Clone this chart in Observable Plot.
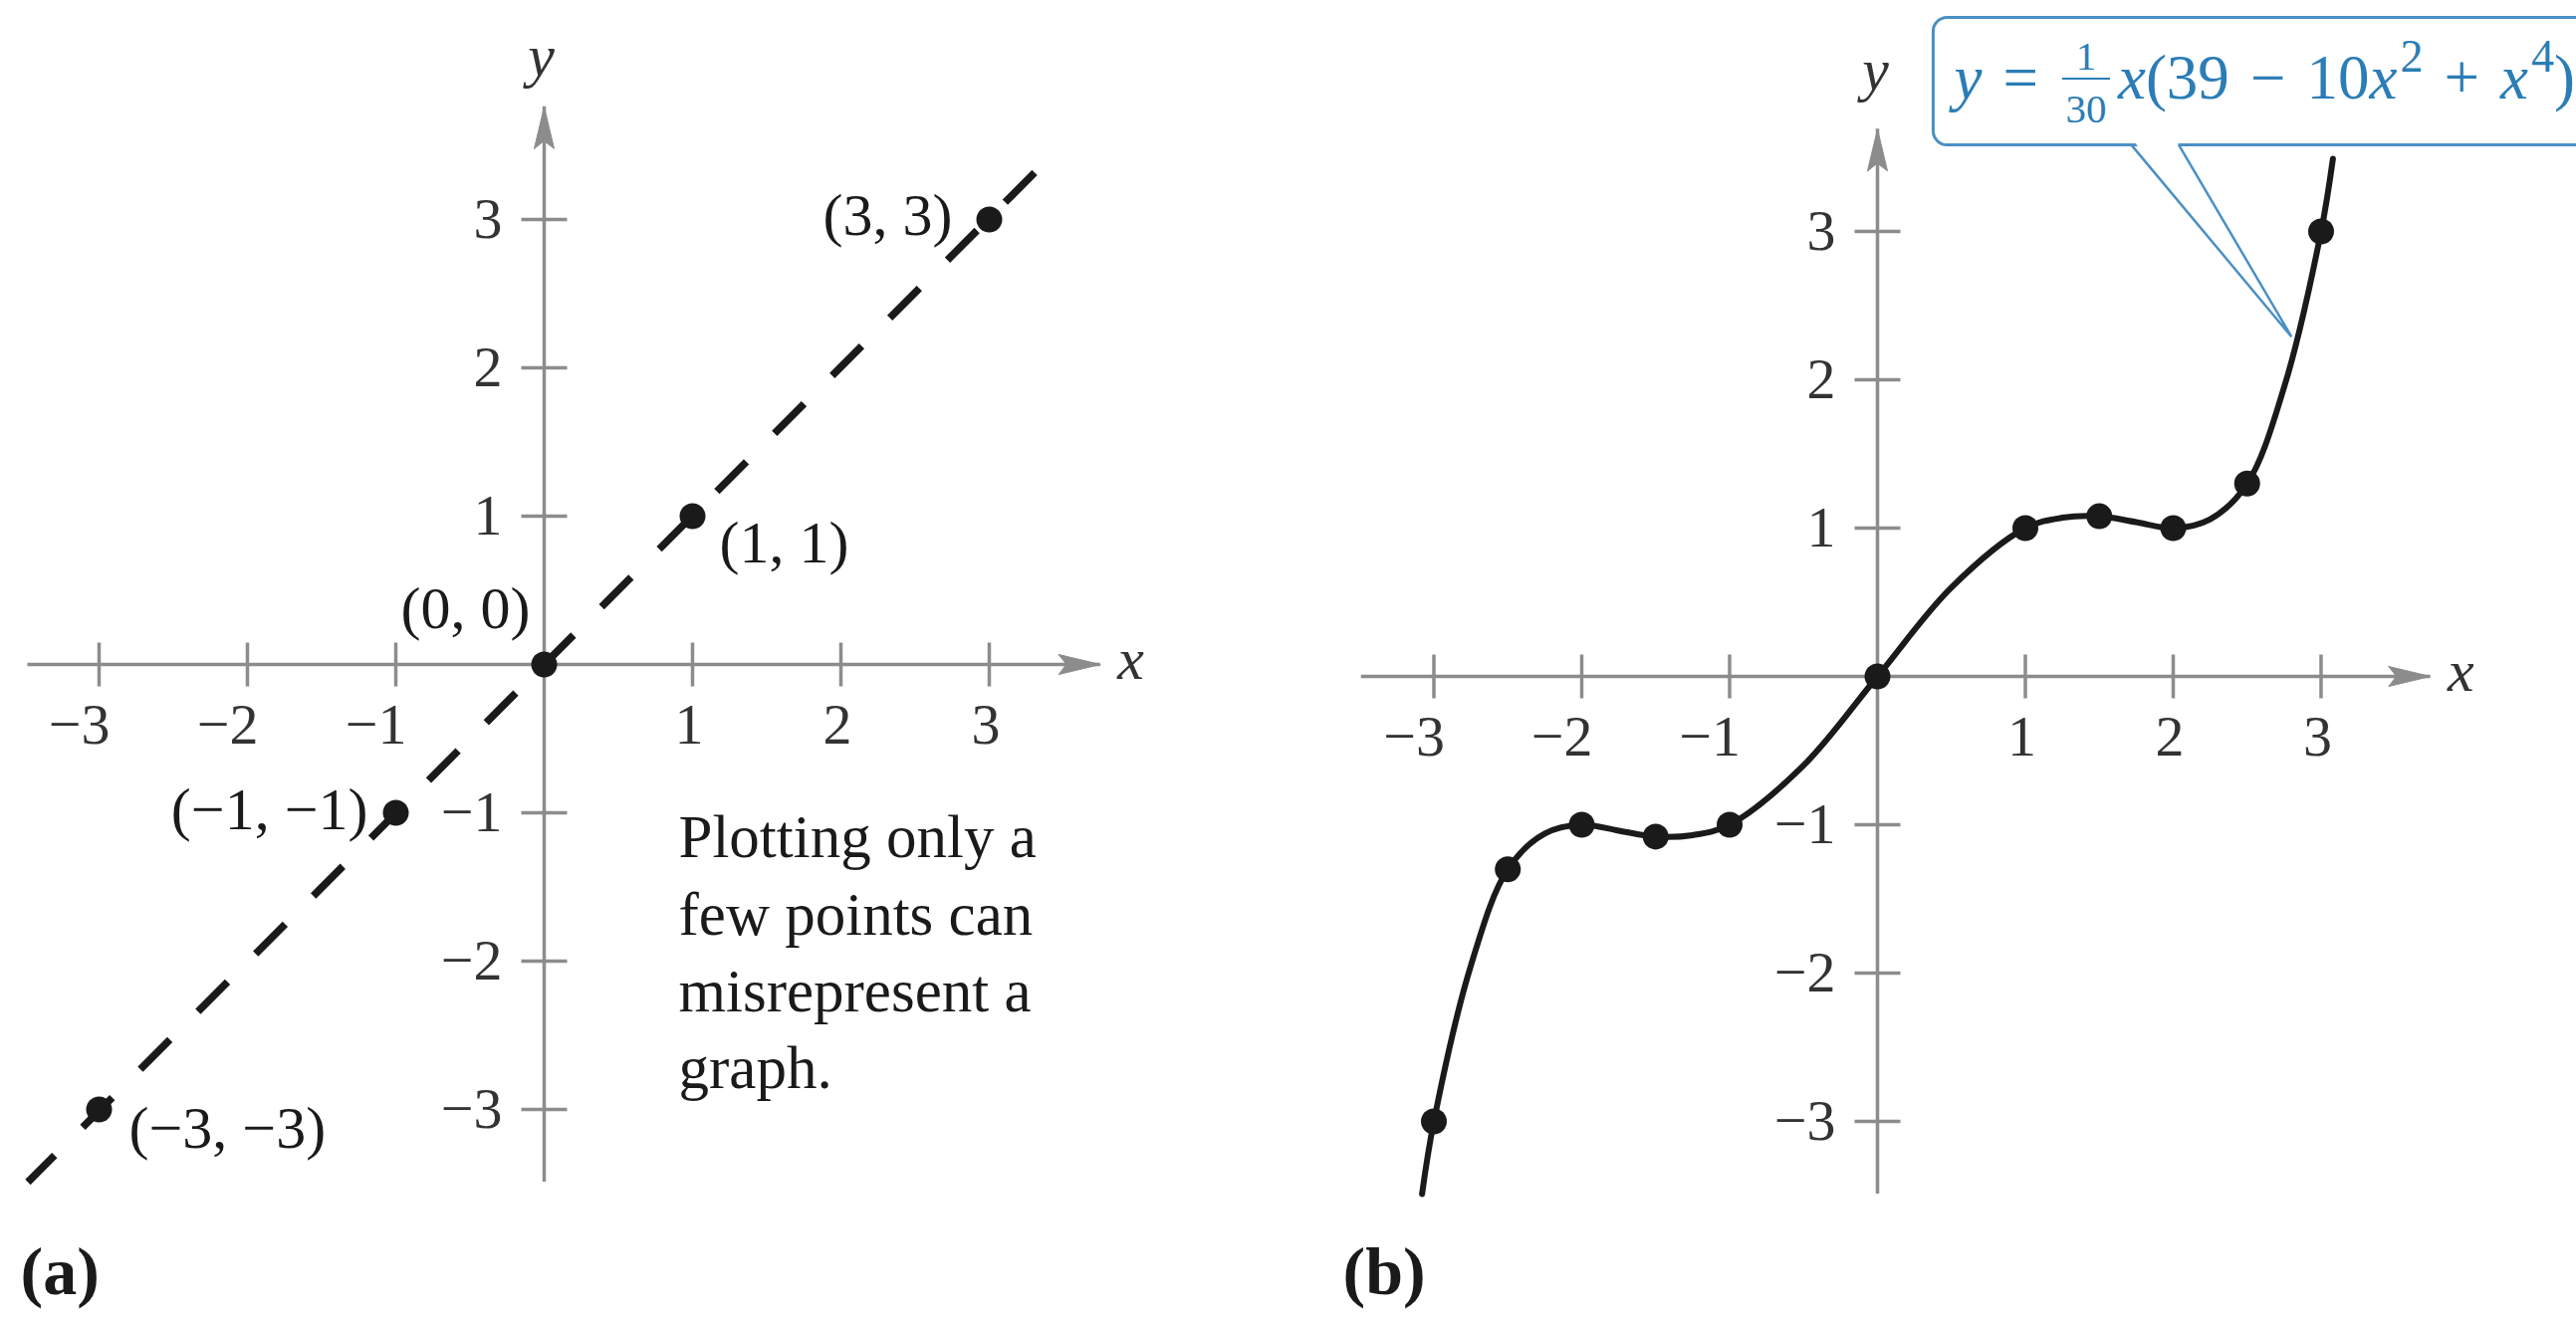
<!DOCTYPE html>
<html>
<head>
<meta charset="utf-8">
<script src="https://cdn.jsdelivr.net/npm/d3@7"></script>
<script src="https://cdn.jsdelivr.net/npm/@observablehq/plot@0.6"></script>
<style>
  html, body { margin: 0; padding: 0; background: #fff; }
  #wrap { position: relative; width: 2587px; height: 1325px; overflow: hidden;
          font-family: "Liberation Serif", "Times New Roman", serif; background: #fff; }
  .panel { position: absolute; top: 0; }
  g[aria-label="note"] text { letter-spacing: 2px; }
  g[aria-label="point label"] text { letter-spacing: 1px; }
  g[aria-label="callout box"] { filter: drop-shadow(-3px 5px 4px rgba(0,0,0,0.32)); }
  #formula { position: absolute; color: #2b7db6; font-size: 63px; line-height: 1; white-space: nowrap;
             font-family: "Liberation Serif", "Times New Roman", serif; }
  #formula i { font-style: italic; }
  #formula .op { display: inline-block; margin: 0 21px; }
  #formula .frac { display: inline-block; position: relative; width: 54px; height: 0; margin: 0 5px 0 0; }
  #formula .num, #formula .den { position: absolute; left: 0; right: 0; text-align: center; font-size: 41px; line-height: 1; }
  #formula .num { bottom: 22px; }
  #formula .den { top: -10px; }
  #formula .bar { position: absolute; left: 3px; right: 3px; bottom: 19px; height: 2px; background: #2b7db6; }
  #formula sup { font-size: 46px; position: relative; top: -27px; vertical-align: baseline; line-height: 0; margin-left: 3px; }
</style>
</head>
<body>
<div id="wrap"></div>
<script>
// ---------- data ----------
const tickValues = [-3, -2, -1, 1, 2, 3];
const tickLabels = ["−3", "−2", "−1", "1", "2", "3"];

// panel (a)
const dashX = [-3.48, 3.31];
const dashY = [-3.49, 3.32];
const pointsAX = [-3, -1, 0, 1, 3];
const pointsAY = [-3, -1, 0, 1, 3];
const pointsALabel = ["(−3, −3)", "(−1, −1)", "(0, 0)", "(1, 1)", "(3, 3)"];
const noteLines = ["Plotting only a", "few points can", "misrepresent a", "graph."];

// panel (b)
const curveX = [-3.08, -3, -2.75, -2.5, -2.25, -2, -1.75, -1.5, -1.25, -1, -0.5, 0, 0.5, 1, 1.25, 1.5, 1.75, 2, 2.25, 2.5, 2.75, 3, 3.08];
const curveY = [-3.49, -3, -1.95, -1.3, -1.06, -1, -1.04, -1.08, -1.07, -1, -0.6, 0, 0.6, 1, 1.07, 1.08, 1.04, 1, 1.06, 1.3, 1.95, 3, 3.49];
const pointsBX = [-3, -2.5, -2, -1.5, -1, 0, 1, 1.5, 2, 2.5, 3];
const pointsBY = [-3, -1.3, -1, -1.08, -1, 0, 1, 1.08, 1, 1.3, 3];
const formulaText = "y = (1/30) x(39 − 10x² + x⁴)";

// ---------- layout / style ----------
const H = 1325;
const axisGray = "#8c8c8c";
const ink = "#1a1a1a";
const font = "Liberation Serif";

const stick = { draw(ctx, l) { ctx.moveTo(0, 0); ctx.lineTo(0, -l); } };
const head = { draw(ctx, l, r) {
  ctx.moveTo(-r, 0); ctx.lineTo(0, -l); ctx.lineTo(r, 0); ctx.lineTo(0, -l * 0.18); ctx.closePath();
} };

function axes(ext) {
  return [
    Plot.ruleY([0], {x1: ext.xMin, x2: ext.xMax, stroke: axisGray, strokeWidth: 3.5}),
    Plot.ruleX([0], {y1: ext.yMin, y2: ext.yMax, stroke: axisGray, strokeWidth: 3.5}),
    Plot.vector([0], {x: ext.xMax, y: 0, rotate: 90, anchor: "end", length: 42, r: 10, shape: head,
                      fill: axisGray, stroke: axisGray, strokeWidth: 1}),
    Plot.vector([0], {x: 0, y: ext.yMax, rotate: 0, anchor: "end", length: 42, r: 10, shape: head,
                      fill: axisGray, stroke: axisGray, strokeWidth: 1}),
    Plot.vector(tickValues, {x: d => d, y: 0, length: 44, anchor: "middle", shape: stick,
                             stroke: axisGray, strokeWidth: 3.5, strokeLinecap: "butt"}),
    Plot.vector(tickValues, {x: 0, y: d => d, rotate: 90, length: 46, anchor: "middle", shape: stick,
                             stroke: axisGray, strokeWidth: 3.5, strokeLinecap: "butt"}),
    Plot.text(tickValues, {x: d => d, y: 0, text: (d, i) => tickLabels[i], dy: 61, dx: 11,
                           textAnchor: "end", fontSize: 58, fontFamily: font, fill: "#333"}),
    Plot.text(tickValues, {x: 0, y: d => d, text: (d, i) => tickLabels[i], dx: -42,
                           textAnchor: "end", fontSize: 58, fontFamily: font, fill: "#333"}),
    Plot.text(["x"], {x: ext.xMax, y: 0, dx: 17, dy: -5, textAnchor: "start", fontSize: 60,
                      fontStyle: "italic", fontFamily: font, fill: "#333"}),
    Plot.text(["y"], {x: 0, y: ext.yMax, dx: ext.yLabelDx, dy: ext.yLabelDy, fontSize: 60,
                      fontStyle: "italic", fontFamily: font, fill: "#333"})
  ];
}

const wrap = document.getElementById("wrap");

// ---------- panel (a) ----------
const noteAnchor = {x: 0.906, y: -0.93};
const pointsA = pointsAX.map((x, i) => ({x, y: pointsAY[i], label: pointsALabel[i]}));
const labelPlace = {
  "(3, 3)":   {textAnchor: "end",   dx: -37, dy: -4},
  "(1, 1)":   {textAnchor: "start", dx: 27,  dy: 27},
  "(0, 0)":   {textAnchor: "end",   dx: -14, dy: -56},
  "(−1, −1)": {textAnchor: "end",   dx: -28, dy: -3},
  "(−3, −3)": {textAnchor: "start", dx: 30,  dy: 19}
};
const labelMarks = Object.entries(labelPlace).map(([lab, p]) =>
  Plot.text(pointsA.filter(d => d.label === lab), {x: "x", y: "y", text: "label", ...p,
    fontSize: 60, fontFamily: font, fill: ink, ariaLabel: "point label"}));

const plotA = Plot.plot({
  width: 1293, height: H, margin: 0,
  x: {domain: [-3, 3], range: [99, 993], axis: null},
  y: {domain: [-3, 3], range: [1114, 220], axis: null},
  style: {background: "transparent", fontFamily: font, overflow: "hidden"},
  marks: [
    ...axes({xMin: -3.48, xMax: 3.75, yMin: -3.49, yMax: 3.76, yLabelDx: -3, yLabelDy: -50}),
    Plot.line({length: dashX.length}, {x: dashX, y: dashY, stroke: ink, strokeWidth: 7.5,
      strokeDasharray: "42,40", strokeDashoffset: 4, strokeLinecap: "butt"}),
    Plot.dot(pointsA, {x: "x", y: "y", r: 13, fill: ink}),
    ...labelMarks,
    Plot.text([noteLines.join("\n")], {x: noteAnchor.x, y: noteAnchor.y, textAnchor: "start",
      lineAnchor: "top", lineHeight: 1.27, fontSize: 61, fontFamily: font, fill: ink, ariaLabel: "note"}),
    Plot.text(["(a)"], {frameAnchor: "bottom-left", dx: 20, dy: -26, textAnchor: "start",
      fontSize: 68, fontWeight: "bold", fontFamily: font, fill: ink})
  ]
});
plotA.classList.add("panel");
plotA.style.left = "0px";
wrap.appendChild(plotA);

// ---------- panel (b) ----------
const callout = {x1: 0.38, x2: 5.0, y1: 3.58, y2: 4.44, baseL: 1.72, baseR: 2.04, tipX: 2.8, tipY: 2.29};
const calloutColor = "#4a90c4";
const curve = curveX.map((x, i) => ({x, y: curveY[i]}));
const pointsB = pointsBX.map((x, i) => ({x, y: pointsBY[i]}));
const pointer = [
  {x: callout.baseL, y: callout.y1}, {x: callout.tipX, y: callout.tipY}, {x: callout.baseR, y: callout.y1}
];
const pointerCover = [
  {x: callout.baseL + 0.015, y: callout.y1 + 0.025}, {x: callout.tipX, y: callout.tipY},
  {x: callout.baseR - 0.015, y: callout.y1 + 0.025}
];

const plotB = Plot.plot({
  width: 1294, height: H, margin: 0,
  x: {domain: [-3, 3], range: [146.5, 1037.5], axis: null},
  y: {domain: [-3, 3], range: [1126, 232], axis: null},
  style: {background: "transparent", fontFamily: font, overflow: "hidden"},
  marks: [
    ...axes({xMin: -3.49, xMax: 3.74, yMin: -3.49, yMax: 3.69, yLabelDx: -2, yLabelDy: -59}),
    Plot.rect([callout], {x1: "x1", x2: "x2", y1: "y1", y2: "y2", rx: 14, fill: "white",
      stroke: calloutColor, strokeWidth: 3, ariaLabel: "callout box"}),
    Plot.line(pointerCover, {x: "x", y: "y", curve: "linear-closed", fill: "white", stroke: "none"}),
    Plot.line(pointer, {x: "x", y: "y", stroke: calloutColor, strokeWidth: 2.5, strokeLinejoin: "miter"}),
    Plot.line(curve, {x: "x", y: "y", curve: "catmull-rom", stroke: ink, strokeWidth: 6}),
    Plot.dot(pointsB, {x: "x", y: "y", r: 13, fill: ink}),
    Plot.text(["(b)"], {frameAnchor: "bottom-left", dx: 55, dy: -26, textAnchor: "start",
      fontSize: 68, fontWeight: "bold", fontFamily: font, fill: ink})
  ]
});
plotB.classList.add("panel");
plotB.style.left = "1293px";
wrap.appendChild(plotB);

// formula label inside the callout, positioned from the plot's scales
const sx = plotB.scale("x"), sy = plotB.scale("y");
const boxLeft = 1293 + sx.apply(callout.x1);
const boxTop = sy.apply(callout.y2), boxBottom = sy.apply(callout.y1);
const f = document.createElement("div");
f.id = "formula";
f.setAttribute("aria-label", formulaText);
f.innerHTML = '<i>y</i><span class="op">=</span><span class="frac"><span class="num">1</span>' +
  '<span class="bar"></span><span class="den">30</span></span><i>x</i>(39<span class="op">−</span>10<i>x</i>' +
  '<sup>2</sup><span class="op">+</span><i>x</i><sup>4</sup>)';
wrap.appendChild(f);
const baseline = boxTop + (boxBottom - boxTop) * 0.64;
f.style.left = (boxLeft + 21) + "px";
f.style.top = (baseline - 0.8375 * 63) + "px";
</script>
</body>
</html>
